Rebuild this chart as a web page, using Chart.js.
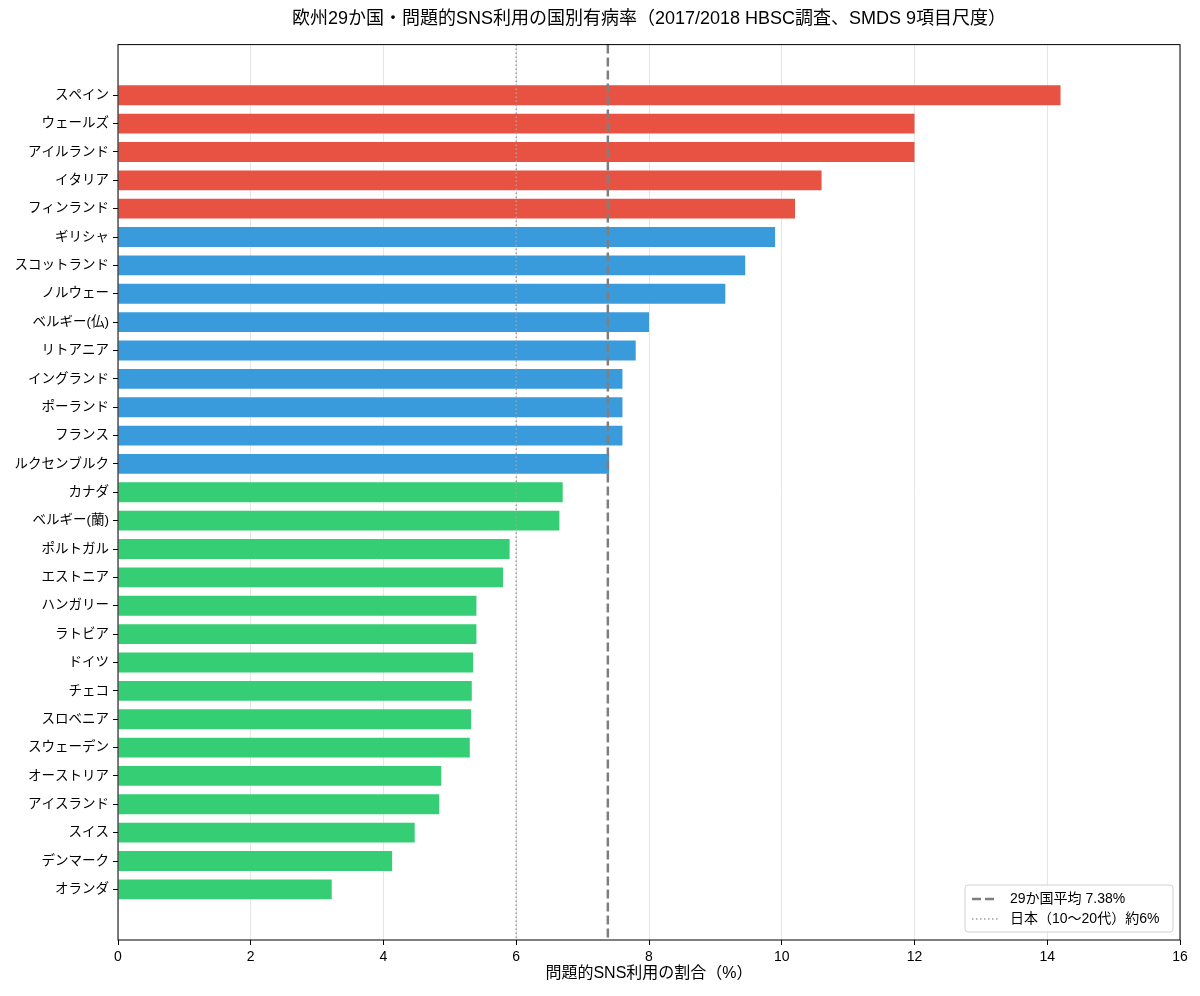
<!DOCTYPE html>
<html>
<head>
<meta charset="utf-8">
<script src="https://cdn.jsdelivr.net/npm/chart.js@4"></script>
<style>
  html, body { margin: 0; padding: 0; background: #fff; }
  #wrap { width: 1200px; height: 996px; }
</style>
</head>
<body>
<div id="wrap"><canvas id="chart" width="1200" height="996"></canvas></div>
<script>
// countries (top to bottom) and their rates (%)
var countries = ["スペイン", "ウェールズ", "アイルランド", "イタリア", "フィンランド",
  "ギリシャ", "スコットランド", "ノルウェー", "ベルギー(仏)", "リトアニア",
  "イングランド", "ポーランド", "フランス", "ルクセンブルク", "カナダ",
  "ベルギー(蘭)", "ポルトガル", "エストニア", "ハンガリー", "ラトビア",
  "ドイツ", "チェコ", "スロベニア", "スウェーデン", "オーストリア",
  "アイスランド", "スイス", "デンマーク", "オランダ"];
var rates = [14.2, 12.0, 12.0, 10.6, 10.2,
  9.9, 9.45, 9.15, 8.0, 7.8,
  7.6, 7.6, 7.6, 7.4, 6.7,
  6.65, 5.9, 5.8, 5.4, 5.4,
  5.35, 5.33, 5.32, 5.3, 4.87,
  4.84, 4.47, 4.13, 3.22];
var average = 7.38;
var japan = 6;
var xTicks = [0, 2, 4, 6, 8, 10, 12, 14, 16];

var FONT = "'Liberation Sans', 'Noto Sans CJK JP', sans-serif";
Chart.defaults.font.family = FONT;
Chart.defaults.color = "#000";

function barColor(v) {
  if (v >= 10) return "rgba(231,76,60,0.97)";
  if (v >= average) return "rgba(52,152,219,0.97)";
  return "rgba(46,204,113,0.97)";
}

var points = rates.map(function (v, i) { return { x: v, y: i }; });

var overlay = {
  id: "overlay",
  afterDatasetsDraw: function (chart) {
    var ctx = chart.ctx, a = chart.chartArea, xs = chart.scales.x;
    ctx.save();
    // Japan dotted line
    var xj = xs.getPixelForValue(japan);
    ctx.strokeStyle = "#a0a0a0";
    ctx.lineWidth = 1.5;
    ctx.setLineDash([1.5, 2.5]);
    ctx.beginPath(); ctx.moveTo(xj, a.top); ctx.lineTo(xj, a.bottom); ctx.stroke();
    // average dashed line
    var xa = xs.getPixelForValue(average);
    ctx.strokeStyle = "#7f7f7f";
    ctx.lineWidth = 2.5;
    ctx.setLineDash([9, 4]);
    ctx.beginPath(); ctx.moveTo(xa, a.top); ctx.lineTo(xa, a.bottom); ctx.stroke();
    // frame
    ctx.setLineDash([]);
    ctx.strokeStyle = "#000";
    ctx.lineWidth = 1;
    ctx.strokeRect(a.left, a.top, a.right - a.left, a.bottom - a.top);
    // legend
    var bw = 208, bh = 47;
    var bx = a.right - 7 - bw, by = a.bottom - 8 - bh;
    ctx.fillStyle = "rgba(255,255,255,0.85)";
    ctx.strokeStyle = "#d0d0d0";
    ctx.lineWidth = 1;
    ctx.beginPath();
    if (ctx.roundRect) ctx.roundRect(bx, by, bw, bh, 3); else ctx.rect(bx, by, bw, bh);
    ctx.fill(); ctx.stroke();
    ctx.font = "14px " + FONT;
    ctx.textBaseline = "middle";
    ctx.fillStyle = "#000";
    var y1 = by + 14, y2 = by + 34;
    ctx.strokeStyle = "#7f7f7f"; ctx.lineWidth = 2.5; ctx.setLineDash([9, 4]);
    ctx.beginPath(); ctx.moveTo(bx + 7, y1); ctx.lineTo(bx + 33, y1); ctx.stroke();
    ctx.strokeStyle = "#a0a0a0"; ctx.lineWidth = 1.5; ctx.setLineDash([1.5, 2.5]);
    ctx.beginPath(); ctx.moveTo(bx + 7, y2); ctx.lineTo(bx + 33, y2); ctx.stroke();
    ctx.setLineDash([]);
    ctx.fillText("29か国平均 " + average.toFixed(2) + "%", bx + 45, y1);
    ctx.fillText("日本（10〜20代）約" + japan + "%", bx + 45, y2);
    ctx.restore();
  }
};

new Chart(document.getElementById("chart"), {
  type: "bar",
  data: {
    datasets: [{
      data: points,
      backgroundColor: rates.map(barColor),
      borderWidth: 0,
      barPercentage: 0.7,
      categoryPercentage: 1.0
    }]
  },
  options: {
    indexAxis: "y",
    responsive: false,
    animation: false,
    layout: { padding: { left: 0, right: 20, top: 0, bottom: 0 } },
    plugins: {
      legend: { display: false },
      tooltip: { enabled: false },
      title: {
        display: true,
        fullSize: false,
        text: "欧州29か国・問題的SNS利用の国別有病率（2017/2018 HBSC調査、SMDS 9項目尺度）",
        font: { size: 18, weight: "normal" },
        color: "#000",
        padding: { top: 8, bottom: 15 }
      }
    },
    scales: {
      x: {
        type: "linear",
        min: 0, max: 16,
        afterBuildTicks: function (axis) {
          axis.ticks = xTicks.map(function (v) { return { value: v }; });
        },
        afterFit: function (scale) { scale.height = 56; },
        ticks: { font: { size: 14 }, color: "#000", padding: 4, maxRotation: 0 },
        grid: { color: "#e6e6e6", lineWidth: 1, tickColor: "#000", tickLength: 5 },
        border: { display: false },
        title: {
          display: true,
          text: "問題的SNS利用の割合（%）",
          font: { size: 16 },
          color: "#000",
          padding: { top: 0, bottom: 13 }
        }
      },
      y: {
        type: "linear",
        reverse: true,
        offset: false,
        min: -1.785, max: 29.785,
        afterBuildTicks: function (axis) {
          axis.ticks = countries.map(function (c, i) { return { value: i }; });
        },
        afterFit: function (scale) { scale.width = 118; },
        ticks: {
          font: { size: 13.5 },
          color: "#000",
          padding: 4,
          autoSkip: false,
          callback: function (v) { return countries[v]; }
        },
        grid: { offset: false, drawOnChartArea: false, tickColor: "#000", tickLength: 5 },
        border: { display: false }
      }
    }
  },
  plugins: [overlay]
});
</script>
</body>
</html>
